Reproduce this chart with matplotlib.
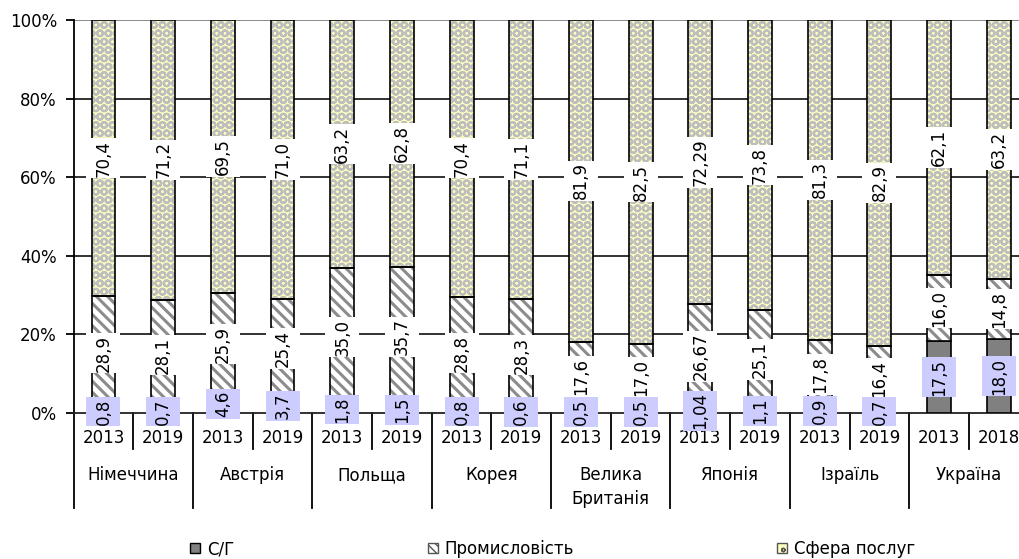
import matplotlib
matplotlib.use("Agg")
import matplotlib.pyplot as plt
import matplotlib.patches as mpatches
import matplotlib.transforms as mtransforms
from matplotlib.path import Path
import numpy as np

plt.rcParams["font.family"] = ["DejaVu Sans"]

# ─── data ─────────────────────────────────────────────────────────────────────
COUNTRIES = ["Німеччина", "Австрія", "Польща", "Корея", "Велика\nБританія",
             "Японія", "Ізраїль", "Україна"]
YEARS = ["2013", "2019", "2013", "2019", "2013", "2019", "2013", "2019",
         "2013", "2019", "2013", "2019", "2013", "2019", "2013", "2018"]
AGRI = [0.8, 0.7, 4.6, 3.7, 1.8, 1.5, 0.8, 0.6, 0.5, 0.5, 1.04, 1.1, 0.9, 0.7, 17.5, 18.0]
INDUSTRY = [28.9, 28.1, 25.9, 25.4, 35.0, 35.7, 28.8, 28.3, 17.6, 17.0, 26.67, 25.1,
            17.8, 16.4, 16.0, 14.8]
SERVICES = [70.4, 71.2, 69.5, 71.0, 63.2, 62.8, 70.4, 71.1, 81.9, 82.5, 72.29, 73.8,
            81.3, 82.9, 62.1, 63.2]
SERIES = ["С/Г", "Промисловість", "Сфера послуг"]

# ─── style ────────────────────────────────────────────────────────────────────
C_AGRI = "#808080"
C_IND_HATCH = "#8C8C8C"
C_SERV_FACE = "#FFFFC0"
C_SERV_HATCH = "#BEBEBE"
C_LAV = "#CCCCFF"
FS = 12
H_IND = "\\\\\\"
H_SERV = "OO"


def label_box(x0, y0, width, height, mutation_size):
    # Excel-like label box: tight along the text, wide across it
    px = 0.1 * mutation_size
    py = 0.48 * mutation_size
    x0, x1 = x0 - px, x0 + width + px
    y0, y1 = y0 - py, y0 + height + py
    return Path([(x0, y0), (x1, y0), (x1, y1), (x0, y1), (x0, y0)],
                closed=True)


fig = plt.figure(figsize=(10.19, 5.59), dpi=100, facecolor="white")
ax = fig.add_axes([73.6 / 1019, 1 - 413 / 559, 955 / 1019, 393 / 559])

agri = np.array(AGRI)
ind = np.array(INDUSTRY)
serv = np.array(SERVICES)
tot = agri + ind + serv
h_a = agri / tot * 100
h_i = ind / tot * 100
h_s = serv / tot * 100
x = np.arange(len(YEARS))
w = 0.4

# bars: hatch layer (edge colour = hatch colour) + black outline layer
ax.bar(x, h_a, w, color=C_AGRI, edgecolor="black", linewidth=1.2, zorder=3)
with plt.rc_context({"hatch.linewidth": 2.2}):
    ax.bar(x, h_i, w, bottom=h_a, color="white", edgecolor=C_IND_HATCH,
           hatch=H_IND, linewidth=0, zorder=3)
with plt.rc_context({"hatch.linewidth": 1.6}):
    ax.bar(x, h_s, w, bottom=h_a + h_i, color=C_SERV_FACE, edgecolor=C_SERV_HATCH,
           hatch=H_SERV, linewidth=0, zorder=3)
ax.bar(x, h_i, w, bottom=h_a, fill=False, edgecolor="black", linewidth=1.2, zorder=3)
ax.bar(x, h_s, w, bottom=h_a + h_i, fill=False, edgecolor="black", linewidth=1.2,
       zorder=3)


def fmt(v):
    return str(v).replace(".", ",")


for i in range(len(x)):
    ax.text(x[i], h_a[i] + h_i[i] / 2, fmt(INDUSTRY[i]), rotation=90, ha="center",
            va="center", fontsize=FS, zorder=5,
            bbox=dict(boxstyle=label_box, fc="white", ec="none"))
    ax.text(x[i], h_a[i] + h_i[i] + h_s[i] / 2, fmt(SERVICES[i]), rotation=90,
            ha="center", va="center", fontsize=FS, zorder=5,
            bbox=dict(boxstyle=label_box, fc="white", ec="none"))
for i in range(len(x)):
    ax.text(x[i], h_a[i] / 2, fmt(AGRI[i]), rotation=90, ha="center",
            va="center", fontsize=FS, zorder=6,
            bbox=dict(boxstyle=label_box, fc=C_LAV, ec="none"))

# axes & grid
ax.set_xlim(-0.5, len(x) - 0.5)
ax.set_ylim(0, 100)
ax.set_yticks(np.arange(0, 101, 20))
ax.set_yticklabels([f"{v}%" for v in range(0, 101, 20)], fontsize=FS)
ax.set_xticks([])
for v in range(20, 100, 20):
    ax.axhline(v, color="#222222", linewidth=1.3, zorder=1)
ax.axhline(100, color="#808080", linewidth=1.3, zorder=1)
for s in ["top", "right"]:
    ax.spines[s].set_visible(False)
ax.spines["left"].set_linewidth(1.3)
ax.spines["bottom"].set_linewidth(1.3)
ax.spines["bottom"].set_color("#222222")
ax.tick_params(axis="y", direction="out", length=6, width=1.3, pad=6)

# two-level category axis
trans = mtransforms.blended_transform_factory(ax.transData, ax.transAxes)
y_year_sep = -36 / 393
y_cty_sep = -95 / 393
ax.plot([-0.5, -0.5], [0, y_cty_sep], color="black", lw=1.3, transform=trans,
        clip_on=False)
for k in range(len(x) - 1):
    bottom = y_cty_sep if k % 2 == 1 else y_year_sep
    ax.plot([k + 0.5, k + 0.5], [0, bottom], color="black", lw=1.3,
            transform=trans, clip_on=False)
for i, yr in enumerate(YEARS):
    ax.text(x[i], -25 / 393, yr, ha="center", va="center", fontsize=FS,
            transform=trans)
for j, c in enumerate(COUNTRIES):
    ax.text(2 * j + 0.5, -53 / 393, c, ha="center", va="top", fontsize=FS,
            linespacing=1.45, transform=trans)

# legend
with plt.rc_context({"hatch.linewidth": 1.5}):
    handles = [
        mpatches.Patch(facecolor=C_AGRI, edgecolor="black", linewidth=1.0),
        mpatches.Patch(facecolor="white", edgecolor="#555555", hatch="\\\\\\\\", linewidth=1.0),
        mpatches.Patch(facecolor=C_SERV_FACE, edgecolor="#555555", hatch="oo", linewidth=1.0),
    ]
for hnd, lbl, px in zip(handles, SERIES, [190, 428, 777]):
    fig.legend(handles=[hnd], labels=[lbl], loc="center left",
               bbox_to_anchor=(px / 1019, 1 - 549 / 559), frameon=False,
               fontsize=FS, handlelength=0.6, handleheight=0.6,
               handletextpad=0.4, borderpad=0, borderaxespad=0)

fig.savefig("out.png", dpi=100, facecolor="white")
